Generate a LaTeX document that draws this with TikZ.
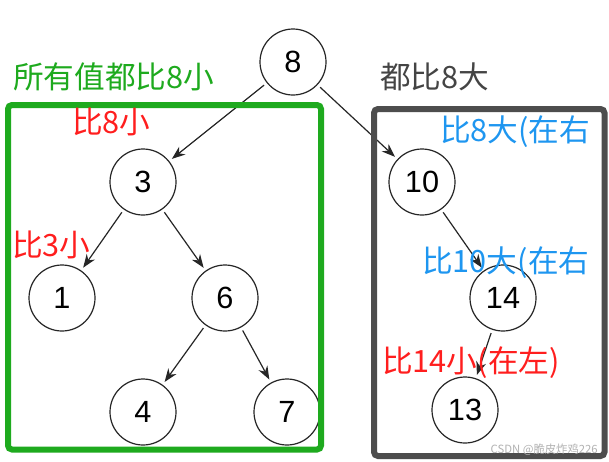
\documentclass[tikz,border=0pt]{standalone}
\usepackage{fontspec}
\setmainfont{Liberation Sans}
\newfontfamily\cjk{Noto Sans CJK SC}
\usetikzlibrary{arrows.meta}
\definecolor{boxgreen}{RGB}{30,170,30}
\definecolor{boxgray}{RGB}{77,77,77}
\definecolor{txtred}{RGB}{255,30,30}
\definecolor{txtblue}{RGB}{30,150,240}
\definecolor{txtgray}{RGB}{68,68,68}
\begin{document}
\begin{tikzpicture}[x=0.75pt,y=-0.75pt,
  tnode/.style={circle,draw=black!85,line width=0.9pt,minimum size=49.5pt,inner sep=0pt,outer sep=3pt,font=\fontsize{23}{23}\selectfont},
  edge/.style={-{Stealth[length=10pt,width=7.5pt]},line width=0.9pt,draw=black!85},
  lbl/.style={anchor=west,inner sep=0pt,font=\cjk\fontsize{23}{23}\selectfont},
  frame/.style={line width=4.5pt,rounded corners=3pt}]
\useasboundingbox (0,0) rectangle (609,461);
\fill[white] (0,0) rectangle (609,461);
% tree nodes
\node[tnode] (n8) at (293,62) {8};
\node[tnode] (n3) at (143,182) {3};
\node[tnode] (n1) at (62,298) {1};
\node[tnode] (n6) at (225,298) {6};
\node[tnode] (n4) at (143,412) {4};
\node[tnode] (n7) at (287,412) {7};
\node[tnode] (n10) at (422,182) {10};
\node[tnode] (n14) at (503,298) {14};
\node[tnode] (n13) at (465,410) {13};
% edges
\draw[edge] (n8) -- (n3);
\draw[edge] (n8) -- (n10);
\draw[edge] (n3) -- (n1);
\draw[edge] (n3) -- (n6);
\draw[edge] (n6) -- (n4);
\draw[edge] (n6) -- (n7);
\draw[edge] (n10) -- (n14);
\draw[edge] (n14) -- (n13);
% boxes
\draw[frame,boxgreen] (8,105) rectangle (321,449.5);
\draw[frame,boxgray] (374,109) rectangle (604.5,456);
% labels
\node[lbl,text=boxgreen] (lg) at (13,77) {所有值都比8小};
\node[lbl,text=txtred] (l8) at (72,122) {比8小};
\node[lbl,text=txtred] (l3) at (12,245) {比3小};
\node[lbl,text=txtgray] (lr) at (380,77) {都比8大};
\node[lbl,text=txtblue] (lb1) at (440,132) {比8大(在右};
\node[lbl,text=txtblue] (lb2) at (422,263) {比10大(在右};
\node[lbl,text=txtred] (l14) at (382,363) {比14小(在左)};
\node[anchor=east,inner sep=0pt,text=black!30,font=\cjk\fontsize{8.5}{8.5}\selectfont] (wm) at (598,450) {CSDN @脆皮炸鸡226};
\end{tikzpicture}
\end{document}
